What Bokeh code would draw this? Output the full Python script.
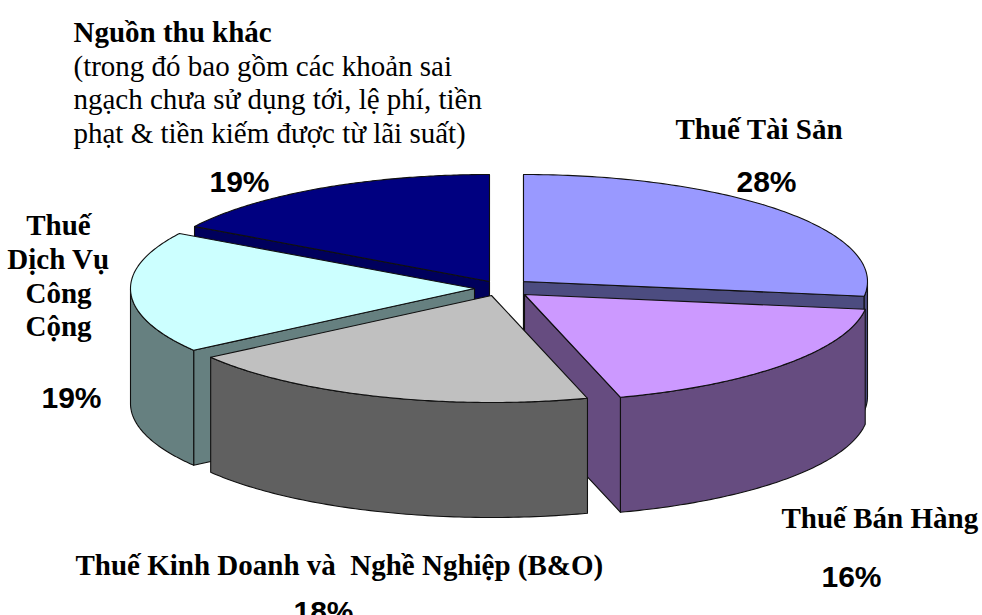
import numpy as np
from bokeh.plotting import figure
from bokeh.models import Range1d
from bokeh.core.properties import value
from bokeh.embed import file_html
from bokeh.resources import INLINE

# ---- chart data ----
categories = ["Thuế Tài Sản", "Thuế Bán Hàng", "Thuế Kinh Doanh và \u00a0Nghề Nghiệp (B&O)",
              "Thuế Dịch Vụ Công Cộng", "Nguồn thu khác"]
printed_pct = [28, 16, 18, 19, 19]
# slice shares as actually drawn in the picture
drawn_share = [27.2, 18.3, 19.7, 18.4, 16.4]

# ---- styling / layout ----
top_colors = ["#9999FF", "#CC99FF", "#C0C0C0", "#CCFFFF", "#000080"]
side_colors = ["#4C4C80", "#664C80", "#606060", "#668080", "#00005C"]
apex_x = [523, 524, 491, 474, 489]
apex_y = [281, 294, 295, 288, 281]
RX, RY, DEPTH = 344, 107, 115
paint_order = [0, 4, 3, 1, 2]
OUTLINE = "#101010"

p = figure(width=982, height=615, x_range=Range1d(0, 982), y_range=Range1d(615, 0),
           toolbar_location=None, output_backend="svg", min_border=0,
           x_axis_location=None, y_axis_location=None, outline_line_color=None)
p.grid.visible = False
p.background_fill_color = "white"

edges = np.concatenate([[0], np.cumsum(drawn_share)]) / sum(drawn_share) * 2 * np.pi


def rim(i, t):
    return apex_x[i] + RX * np.sin(t), apex_y[i] - RY * np.cos(t)


def draw(xs, ys, color):
    p.patch(list(xs), list(ys), fill_color=color, line_color=OUTLINE, line_width=1.1,
            line_join="round")


def face(i, t, color):
    x, y = rim(i, t)
    draw([apex_x[i], x, x, apex_x[i]],
         [apex_y[i], y, y + DEPTH, apex_y[i] + DEPTH], color)


for i in paint_order:
    t0, t1 = edges[i], edges[i + 1]
    # straight cut faces that look towards the viewer
    if np.cos(t0) > 0 or np.sin(t0) < 0 and np.cos(t0) < 0 and t0 > np.pi:
        face(i, t0, side_colors[i])
    if np.sin(t1) > 0 and t1 > 0.5 * np.pi:
        face(i, t1, side_colors[i])
    # outer wall: the part of the rim on the near half
    a, b = max(t0, 0.5 * np.pi), min(t1, 1.5 * np.pi)
    if b > a:
        t = np.linspace(a, b, 80)
        x, y = rim(i, t)
        draw(np.r_[x, x[::-1]], np.r_[y, y[::-1] + DEPTH], side_colors[i])
    # top
    t = np.linspace(t0, t1, 120)
    x, y = rim(i, t)
    draw(np.r_[apex_x[i], x], np.r_[apex_y[i], y], top_colors[i])

SERIF, SANS = value("Liberation Serif"), value("Liberation Sans")


def label(x, y, s, font=SERIF, style="bold", size="29px", align="left"):
    p.text([x], [y], text=[s], text_font=font, text_font_style=style, text_font_size=size,
           text_align=align, text_baseline="alphabetic", text_color="black")


label(73, 31, categories[4])
for y, s in zip([65, 98, 132], ["(trong đó bao gồm các khoản sai",
                                "ngạch chưa sử dụng tới, lệ phí, tiền",
                                "phạt & tiền kiếm được từ lãi suất)"]):
    label(73, y, s, style="normal")
label(675, 128, categories[0])
label(781, 517, categories[1])
label(75, 564, categories[2])
for y, s in zip([224, 258, 292, 325], ["Thuế", "Dịch Vụ", "Công", "Cộng"]):
    label(58, y, s, align="center")

for i, (x, y) in zip([0, 1, 2, 3, 4],
                     [(766, 181), (851, 576), (323, 611), (71, 397), (239, 181)]):
    label(x, y, f"{printed_pct[i]}%", font=SANS, size="30px", align="center")

open("out.html", "w").write(file_html(p, INLINE))
